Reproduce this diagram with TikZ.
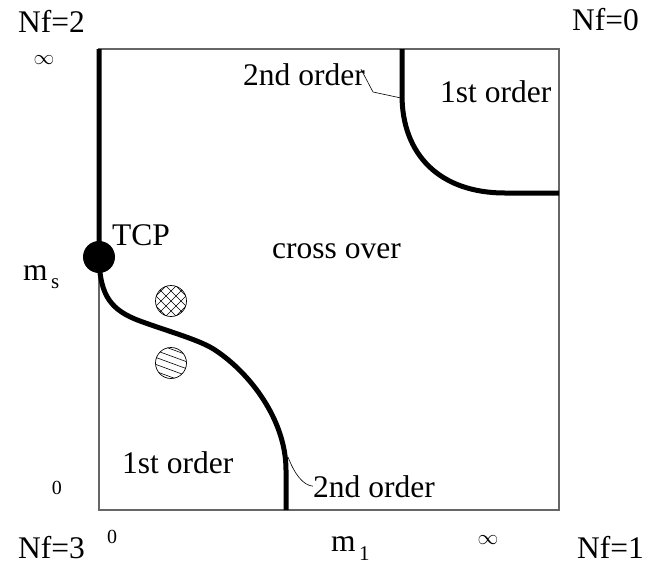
\documentclass[tikz,border=0pt]{standalone}
\usepackage{fontspec}
\setmainfont{Liberation Serif}
\begin{document}
\begin{tikzpicture}[x=1pt,y=-1pt,
  big/.style={font=\fontsize{31.5}{36}\selectfont, inner sep=0pt, anchor=base west},
  small/.style={font=\fontsize{20}{24}\selectfont, inner sep=0pt},
  sub/.style={font=\fontsize{21}{24}\selectfont, inner sep=0pt, anchor=base west},
  boxline/.style={draw=black!60, line width=1.3pt},
  phase/.style={line width=5pt},
  leader/.style={line width=0.6pt},
  hatchdot/.style={circle, draw, line width=0.7pt, minimum size=31pt, inner sep=0pt}
]
\useasboundingbox (0,0) rectangle (646,565);
% frame
\draw[boxline] (99,49) rectangle (559,510);
% coordinates
\coordinate (ltop) at (99,49);
\coordinate (lbot) at (286,510);
\coordinate (rtop) at (402,49);
\coordinate (rend) at (559,193);
\coordinate (lk) at (288,457);
\coordinate (rk) at (401,98);
% TCP
\node[circle, fill=black, minimum size=32pt, inner sep=0pt] (tcp) at (99,257) {};
% left phase boundary
\draw[phase] (ltop) -- (tcp.center) -- (99,262)
  .. controls (101,295) and (110,310) .. (140,321)
  .. controls (170,332) and (200,340) .. (215,350)
  .. controls (250,373) and (286,420) .. (286,470) -- (lbot);
% right phase boundary
\draw[phase] (rtop) -- (402,95)
  .. controls (402,155) and (440,193) .. (505,193) -- (rend);
% hatched dots
\node[hatchdot, path picture={
  \begin{scope}[shift={(path picture bounding box.center)}]
  \foreach \i in {-40,-30,...,40} {
    \draw[line width=0.6pt] (\i-30,-30) -- (\i+30,30);
    \draw[line width=0.6pt] (\i-30,30) -- (\i+30,-30);
  }
  \end{scope}}] (cross) at (171,301) {};
\node[hatchdot, path picture={
  \begin{scope}[shift={(path picture bounding box.center)}]
  \foreach \i in {-35,-28,...,35} {
    \draw[line width=0.6pt] (-30,\i-11) -- (30,\i+11);
  }
  \end{scope}}] (lines) at (171,363) {};
% labels
\node[big] (nf2) at (18,32) {Nf=2};
\node[big] (nf0) at (572,30) {Nf=0};
\node[big] (nf3) at (18,558) {Nf=3};
\node[big] (nf1) at (577,558) {Nf=1};
\node[small] (inftl) at (44,60) {$\infty$};
\node[small] (zl) at (57,488) {0};
\node[small] (zb) at (112,537) {0};
\node[small] (infb) at (488,540) {$\infty$};
\node[big] (tcpl) at (112,245) {TCP};
\node[big] (ms) at (23,280) {m};
\node[sub] (mss) at (51,288) {s};
\node[big] (m1) at (331,551) {m};
\node[sub] (m1s) at (359,560) {1};
\node[big] (cross over) at (272,258) {cross over};
\node[big] (fo1) at (440,102) {1st order};
\node[big] (fo2) at (122,473) {1st order};
\node[big] (so1) at (243,85) {2nd order};
\node[big] (so2) at (313,497) {2nd order};
% leaders
\draw[leader] (so1.east) ++(-4,-5) -- (373,92) -- (rk);
\draw[leader] (lk) .. controls (295,475) and (303,485) .. (so2.west);
\end{tikzpicture}
\end{document}
